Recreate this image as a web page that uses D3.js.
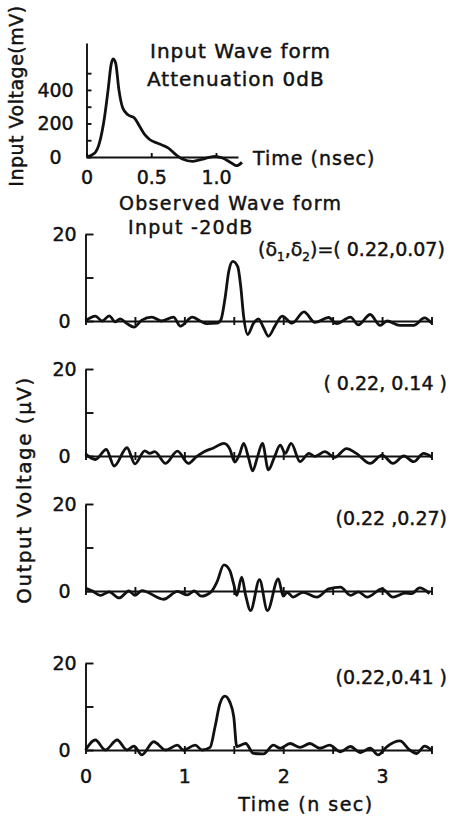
<!DOCTYPE html>
<html>
<head>
<meta charset="utf-8">
<script src="https://cdn.jsdelivr.net/npm/d3@7"></script>
<style>
body { margin: 0; background: #fff; }
svg text { font-family: "DejaVu Sans", sans-serif; fill: #111; stroke: #111; stroke-width: 0.45px; }
</style>
</head>
<body>
<script>
'use strict';

// input pulse (time in nsec, voltage in mV)
var inputTime = [0, 0.064, 0.10, 0.14, 0.167, 0.19, 0.205, 0.225, 0.25, 0.28, 0.32, 0.37, 0.41, 0.45, 0.49, 0.56, 0.63, 0.69, 0.74, 0.82, 0.90, 0.99, 1.05, 1.12, 1.16, 1.20];
var inputMv = [0, 24, 84, 242, 402, 551, 585, 561, 402, 292, 252, 233, 183, 133, 103, 79, 54, 14, -12, -26, -12, 4, -6, -36, -52, -32];

// observed waveforms (time in nsec, voltage in uV)
var outTime1 = [0, 0.10, 0.17, 0.24, 0.30, 0.35, 0.42, 0.49, 0.57, 0.67, 0.77, 0.89, 0.96, 1.08, 1.16, 1.23, 1.33, 1.37, 1.41, 1.45, 1.49, 1.54, 1.57, 1.60, 1.64, 1.70, 1.75, 1.80, 1.85, 1.92, 1.99, 2.09, 2.21, 2.32, 2.46, 2.54, 2.68, 2.76, 2.88, 2.98, 3.05, 3.18, 3.32, 3.43, 3.50];
var outVolt1 = [0, 1.1, 0, 1.2, -0.2, 0.5, -0.6, -1.4, 0.2, 0.9, 0, 0.9, -1.2, 0.9, 0, -0.6, -0.5, 0.3, 5, 11.5, 13.7, 12.5, 8, 1, -3.1, -0.5, 0.5, -1.5, -3.5, -1, 1.1, -0.5, 2.1, -0.3, 0.8, -0.6, 0.9, -0.9, 1.5, -1.0, 0, -1.0, -1.0, 0.7, -0.5];

var outTime2 = [0, 0.10, 0.21, 0.29, 0.42, 0.50, 0.60, 0.65, 0.70, 0.81, 0.93, 1.04, 1.12, 1.20, 1.29, 1.40, 1.46, 1.51, 1.56, 1.60, 1.65, 1.69, 1.74, 1.79, 1.85, 1.91, 1.97, 2.02, 2.08, 2.17, 2.26, 2.32, 2.42, 2.52, 2.64, 2.74, 2.88, 3.00, 3.11, 3.22, 3.32, 3.42, 3.50];
var outVolt2 = [0.5, -0.8, 1.5, -2.3, 1.9, -1.8, 1.2, 0.6, 1.0, -1.7, 1.1, -1.7, -0.2, 1.0, 1.8, 2.9, 1.6, -1.4, 0.5, 2.9, -0.5, -3.4, -0.2, 2.9, -3.2, -0.3, 2.5, 0.6, 2.9, -1.3, 0.6, -0.1, 1.0, -0.3, 1.7, 0.6, -1.7, 0.2, -1.7, 0, -1.3, 0.6, -0.2];

var outTime3 = [0, 0.07, 0.15, 0.24, 0.34, 0.44, 0.50, 0.57, 0.79, 0.93, 1.03, 1.10, 1.17, 1.27, 1.33, 1.40, 1.46, 1.50, 1.53, 1.58, 1.62, 1.67, 1.76, 1.84, 1.95, 2.00, 2.04, 2.10, 2.20, 2.34, 2.46, 2.58, 2.68, 2.76, 2.85, 3.00, 3.11, 3.23, 3.30, 3.38, 3.48];
var outVolt3 = [0.7, 0, -1.0, -0.2, -1.6, 0, -1.0, 0.1, -1.9, -0.1, -0.9, 0, -1.2, -0.2, 2.1, 6.0, 4.7, 1.5, -1.0, 3.2, -1.0, -4.5, 2.6, -4.5, 2.8, -1.2, -0.3, -1.4, -0.3, -1.4, 0.5, 0.9, -1.0, -0.2, -1.4, 0.5, -1.4, -0.5, -0.6, 0.7, -0.6];

var outTime4 = [0, 0.10, 0.20, 0.32, 0.42, 0.49, 0.57, 0.69, 0.81, 0.93, 0.99, 1.11, 1.18, 1.26, 1.31, 1.36, 1.41, 1.46, 1.50, 1.53, 1.62, 1.70, 1.80, 1.90, 1.97, 2.07, 2.17, 2.27, 2.37, 2.47, 2.58, 2.68, 2.78, 2.88, 2.96, 3.05, 3.18, 3.28, 3.35, 3.43, 3.50];
var outVolt4 = [0, 2.3, 0, 2.3, 0, 0.9, -1.1, 1.9, 0, 1.1, 0, 1.1, 0, 0.6, 5.3, 10.7, 12.4, 11, 7.6, 0.8, 1.5, -0.8, -0.9, 1.1, 0.4, 1.5, 0.6, 1.5, 0.4, 1.1, -0.4, 0.8, -0.6, 0.4, -1.1, 0.8, 2.1, 0, -0.8, 0.9, 0];

var panelLabels = ['( 0.22, 0.14 )', '(0.22 ,0.27)', '(0.22,0.41 )'];

// ticks
var inputYTicks = [0, 100, 200, 300, 400, 500];
var inputXTicks = [0, 0.5, 1.0];
var outYTicks = [0, 10, 20];
var outXTicks = [0, 0.5, 1, 1.5, 2, 2.5, 3, 3.5];

var width = 459;
var height = 819;

var svg = d3.select('body')
  .append('svg')
  .attr('width', width)
  .attr('height', height);

var line = function(x, y) {
  return d3.line()
    .x(function(d) { return x(d[0]); })
    .y(function(d) { return y(d[1]); })
    .curve(d3.curveMonotoneX);
};

function styleAxis(g) {
  g.attr('font-size', null).attr('font-family', null);
  g.selectAll('path, line').attr('stroke', '#111').attr('stroke-width', 1.9);
  g.selectAll('text').style('font-size', '19px');
}

//----- input waveform -----
var xIn = d3.scaleLinear().domain([0, 1.17]).range([86.5, 238]);
var yIn = d3.scaleLinear().domain([0, 680]).range([157, 43]);

svg.append('g')
  .attr('transform', 'translate(' + xIn(0) + ',0)')
  .call(d3.axisLeft(yIn)
    .tickValues(inputYTicks)
    .tickSizeInner(-5)
    .tickSizeOuter(0)
    .tickFormat(function(d) { return d % 200 === 0 ? d : ''; }))
  .call(styleAxis)
  .call(function(g) {
    g.selectAll('text').attr('text-anchor', 'middle').attr('x', -31);
  });

svg.append('g')
  .attr('transform', 'translate(0,' + yIn(0) + ')')
  .call(d3.axisBottom(xIn)
    .tickValues(inputXTicks)
    .tickSizeInner(-4)
    .tickSizeOuter(0)
    .tickPadding(14)
    .tickFormat(function(d) { return d === 0 ? '0' : d3.format('.1f')(d); }))
  .call(styleAxis);

svg.append('path')
  .datum(d3.zip(inputTime, inputMv))
  .attr('d', line(xIn, yIn))
  .attr('fill', 'none')
  .attr('stroke', '#111')
  .attr('stroke-width', 2.8);

svg.append('text')
  .attr('transform', 'translate(23,96)rotate(-90)')
  .attr('text-anchor', 'middle')
  .style('font-size', '19px')
  .style('letter-spacing', '0.5px')
  .text('Input Voltage(mV)');

svg.append('text').attr('x', 150).attr('y', 58).style('font-size', '20px').style('letter-spacing', '1px')
  .text('Input  Wave  form');
svg.append('text').attr('x', 147).attr('y', 86).style('font-size', '20px').style('letter-spacing', '1px')
  .text('Attenuation  0dB');
svg.append('text').attr('x', 253).attr('y', 165).style('font-size', '19px').style('letter-spacing', '1px')
  .text('Time (nsec)');

//----- observed waveforms -----
var xOut = d3.scaleLinear().domain([0, 3.5]).range([85.5, 431.5]);
var panelZero = [321, 456, 591, 750];
var panelData = [
  d3.zip(outTime1, outVolt1),
  d3.zip(outTime2, outVolt2),
  d3.zip(outTime3, outVolt3),
  d3.zip(outTime4, outVolt4)
];

panelData.forEach(function(data, i) {
  var y = d3.scaleLinear().domain([0, 20]).range([panelZero[i], panelZero[i] - 87]);
  var last = i === panelData.length - 1;

  svg.append('g')
    .attr('transform', 'translate(0,' + y(0) + ')')
    .call(d3.axisBottom(xOut)
      .tickValues(outXTicks)
      .tickSizeInner(8)
      .tickSizeOuter(0)
      .tickPadding(12)
      .tickFormat(function(d) { return last && d % 1 === 0 ? d : ''; }))
    .call(styleAxis)
    .call(function(g) {
      g.selectAll('.tick line').attr('y1', -4).attr('y2', 4);
    });

  svg.append('g')
    .attr('transform', 'translate(' + xOut(0) + ',0)')
    .call(d3.axisLeft(y)
      .tickValues(outYTicks)
      .tickSizeInner(-8)
      .tickSizeOuter(0)
      .tickFormat(function(d) { return d === 10 ? '' : d; }))
    .call(styleAxis)
    .call(function(g) {
      g.selectAll('text').attr('text-anchor', 'middle').attr('x', -21);
    });

  svg.append('path')
    .datum(data)
    .attr('d', line(xOut, y))
    .attr('fill', 'none')
    .attr('stroke', '#111')
    .attr('stroke-width', 2.8);

  if (i > 0) {
    svg.append('text')
      .attr('x', 447)
      .attr('y', y(20) + 21)
      .attr('text-anchor', 'end')
      .style('font-size', '19px')
      .text(panelLabels[i - 1]);
  }
});

svg.append('text').attr('x', 119).attr('y', 210).style('font-size', '19px').style('letter-spacing', '1.3px')
  .text('Observed  Wave  form');
svg.append('text').attr('x', 128).attr('y', 234).style('font-size', '19px').style('letter-spacing', '1.3px')
  .text('Input  -20dB');

var delta = svg.append('text').attr('x', 258).attr('y', 256).style('font-size', '19px');
delta.append('tspan').text('(δ');
delta.append('tspan').attr('dy', 5).style('font-size', '12px').text('1');
delta.append('tspan').attr('dy', -5).text(',δ');
delta.append('tspan').attr('dy', 5).style('font-size', '12px').text('2');
delta.append('tspan').attr('dy', -5).text(')=( 0.22,0.07)');

svg.append('text')
  .attr('transform', 'translate(31,490)rotate(-90)')
  .attr('text-anchor', 'middle')
  .style('font-size', '20px')
  .style('letter-spacing', '1.5px')
  .text('Output   Voltage (\u03bcV)');

svg.append('text').attr('x', 306).attr('y', 811).attr('text-anchor', 'middle')
  .style('font-size', '19px').style('letter-spacing', '1.5px')
  .text('Time  (n sec)');
</script>
</body>
</html>
